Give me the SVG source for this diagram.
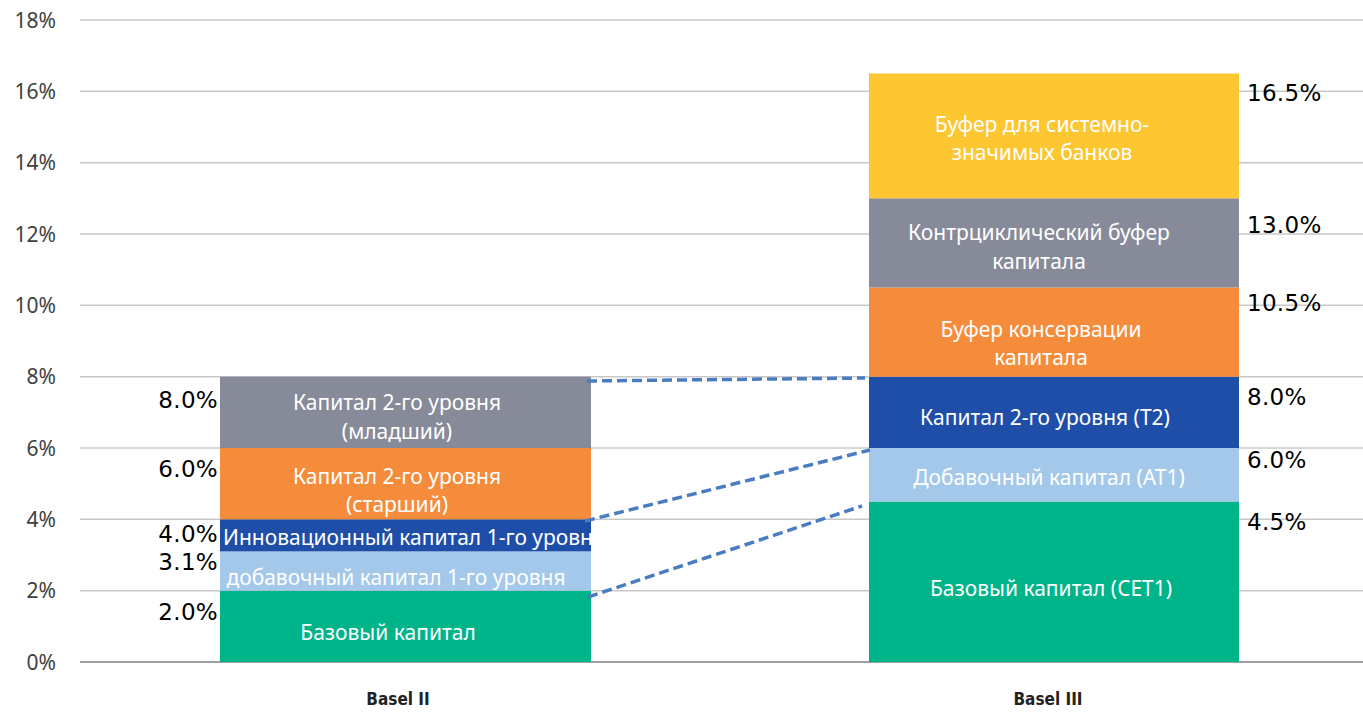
<svg xmlns="http://www.w3.org/2000/svg" width="1363" height="713" viewBox="0 0 1363 713">
<style>
.grid{stroke:#c8c8c8;stroke-width:1.5}
.base{stroke:#a0a0a0;stroke-width:2}
.tick{font-family:"Noto Sans",sans-serif;font-size:21px;fill:#404040;text-anchor:end}
.val{font-family:"DejaVu Sans",sans-serif;font-size:23px;fill:#000;letter-spacing:0.3px}
.valL{text-anchor:end}
.lbl{font-family:"Noto Sans",sans-serif;font-size:21px;fill:#fff;text-anchor:middle}
.cat{font-family:"DejaVu Sans Condensed","DejaVu Sans",sans-serif;font-weight:bold;font-size:17px;fill:#222;text-anchor:middle}
.dash{stroke:#4a7dc0;stroke-width:3.5;stroke-dasharray:10 5;fill:none}
</style>
<defs>
<clipPath id="clipInnov"><rect x="220" y="519" width="371" height="33"/></clipPath>
</defs>
<rect width="1363" height="713" fill="#fff"/>
<g id="axis">
<line class="grid" x1="80" y1="20" x2="1363" y2="20"/>
<line class="grid" x1="80" y1="91.3" x2="1363" y2="91.3"/>
<line class="grid" x1="80" y1="162.7" x2="1363" y2="162.7"/>
<line class="grid" x1="80" y1="234" x2="1363" y2="234"/>
<line class="grid" x1="80" y1="305.3" x2="1363" y2="305.3"/>
<line class="grid" x1="80" y1="376.7" x2="1363" y2="376.7"/>
<line class="grid" x1="80" y1="448" x2="1363" y2="448"/>
<line class="grid" x1="80" y1="519.3" x2="1363" y2="519.3"/>
<line class="grid" x1="80" y1="590.7" x2="1363" y2="590.7"/>
<line class="base" x1="80" y1="662" x2="1363" y2="662"/>
<text class="tick" x="56" y="27.5">18%</text>
<text class="tick" x="56" y="98.8">16%</text>
<text class="tick" x="56" y="170.2">14%</text>
<text class="tick" x="56" y="241.5">12%</text>
<text class="tick" x="56" y="312.8">10%</text>
<text class="tick" x="56" y="384.2">8%</text>
<text class="tick" x="56" y="455.5">6%</text>
<text class="tick" x="56" y="526.8">4%</text>
<text class="tick" x="56" y="598.2">2%</text>
<text class="tick" x="56" y="669.5">0%</text>
</g>
<g id="basel2">
<g id="b2-core"><rect x="220" y="590.7" width="371" height="71.3" fill="#00b48a"/><text class="lbl" x="388" y="640">Базовый капитал</text></g>
<g id="b2-add"><rect x="220" y="551.4" width="371" height="39.3" fill="#a3c8ea"/><text class="lbl" x="396" y="585">добавочный капитал 1-го уровня</text></g>
<g id="b2-innov"><rect x="220" y="519.3" width="371" height="32.1" fill="#1f4ea8"/><text class="lbl" x="223" y="545" style="text-anchor:start" clip-path="url(#clipInnov)">Инновационный капитал 1-го уровня</text></g>
<g id="b2-senior"><rect x="220" y="448" width="371" height="71.3" fill="#f58c3b"/><text class="lbl" x="397" y="484">Капитал 2-го уровня</text><text class="lbl" x="397" y="512">(старший)</text></g>
<g id="b2-junior"><rect x="220" y="376.7" width="371" height="71.3" fill="#878b99"/><text class="lbl" x="397" y="410">Капитал 2-го уровня</text><text class="lbl" x="397" y="439">(младший)</text></g>
<text class="val valL" x="218" y="408">8.0%</text>
<text class="val valL" x="218" y="477">6.0%</text>
<text class="val valL" x="218" y="542">4.0%</text>
<text class="val valL" x="218" y="570">3.1%</text>
<text class="val valL" x="218" y="620">2.0%</text>
<text class="cat" x="398" y="705">Basel II</text>
</g>
<g id="basel3">
<g id="b3-cet1"><rect x="869" y="501.5" width="370" height="160.5" fill="#00b48a"/><text class="lbl" x="1051" y="596">Базовый капитал (CET1)</text></g>
<g id="b3-at1"><rect x="869" y="448" width="370" height="53.5" fill="#a3c8ea"/><text class="lbl" x="1049" y="485">Добавочный капитал (AT1)</text></g>
<g id="b3-t2"><rect x="869" y="376.7" width="370" height="71.3" fill="#1f4ea8"/><text class="lbl" x="1045" y="425">Капитал 2-го уровня (T2)</text></g>
<g id="b3-cons"><rect x="869" y="287.5" width="370" height="89.2" fill="#f58c3b"/><text class="lbl" x="1041" y="337">Буфер консервации</text><text class="lbl" x="1041" y="365">капитала</text></g>
<g id="b3-ccyb"><rect x="869" y="198.3" width="370" height="89.2" fill="#878b99"/><text class="lbl" x="1039" y="240">Контрциклический буфер</text><text class="lbl" x="1039" y="269">капитала</text></g>
<g id="b3-sib"><rect x="869" y="73.5" width="370" height="124.8" fill="#fec630"/><text class="lbl" x="1042" y="132">Буфер для системно-</text><text class="lbl" x="1042" y="160">значимых банков</text></g>
<text class="val" x="1247" y="101">16.5%</text>
<text class="val" x="1247" y="233">13.0%</text>
<text class="val" x="1247" y="311">10.5%</text>
<text class="val" x="1247" y="405">8.0%</text>
<text class="val" x="1247" y="468">6.0%</text>
<text class="val" x="1247" y="530">4.5%</text>
<text class="cat" x="1048" y="705">Basel III</text>
</g>
<g id="connectors">
<line class="dash" x1="587" y1="381" x2="865" y2="378"/>
<line class="dash" x1="585" y1="521" x2="870" y2="450"/>
<line class="dash" x1="588" y1="597" x2="862" y2="506"/>
</g>
</svg>
